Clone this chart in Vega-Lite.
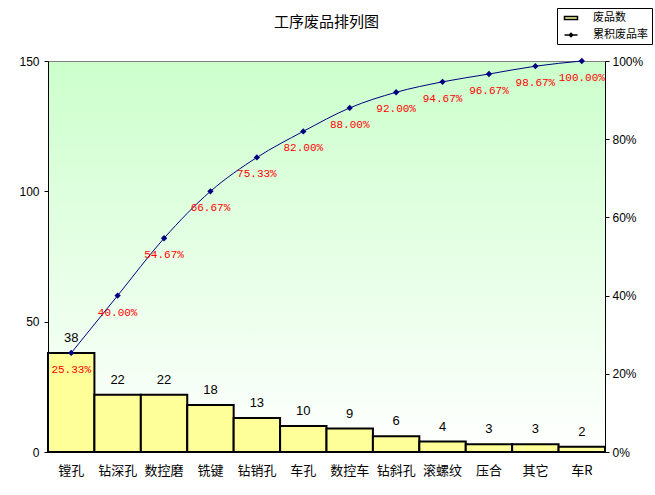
{
  "$schema": "https://vega.github.io/schema/vega-lite/v6.json",
  "width": 557,
  "height": 391,
  "autosize": "none",
  "padding": {"left": 48, "top": 61, "right": 50, "bottom": 43},
  "background": "white",
  "config": {
    "view": {
      "fill": {"gradient": "linear", "x1": 0, "y1": 0, "x2": 0, "y2": 1,
        "stops": [{"offset": 0, "color": "#CCFFCC"}, {"offset": 1, "color": "#FFFFFF"}]},
      "stroke": "#808080",
      "strokeWidth": 1
    },
    "font": "Liberation Sans",
    "axis": {"grid": false, "domainColor": "black", "tickColor": "black", "labelColor": "black", "labelFont": "Liberation Sans", "labelFontSize": 12, "title": null}
  },
  "title": {"text": "工序废品排列图", "font": "Noto Sans CJK SC", "fontSize": 15, "fontWeight": "normal", "color": "black", "anchor": "middle", "offset": 0, "dy": 22},
  "data": {"values": [
    {"process": "镗孔", "count": 38, "cum": 0.2533},
    {"process": "钻深孔", "count": 22, "cum": 0.4000},
    {"process": "数控磨", "count": 22, "cum": 0.5467},
    {"process": "铣键", "count": 18, "cum": 0.6667},
    {"process": "钻销孔", "count": 13, "cum": 0.7533},
    {"process": "车孔", "count": 10, "cum": 0.8200},
    {"process": "数控车", "count": 9, "cum": 0.8800},
    {"process": "钻斜孔", "count": 6, "cum": 0.9200},
    {"process": "滚螺纹", "count": 4, "cum": 0.9467},
    {"process": "压合", "count": 3, "cum": 0.9667},
    {"process": "其它", "count": 3, "cum": 0.9867},
    {"process": "车R", "count": 2, "cum": 1.0000}
  ]},
  "encoding": {
    "x": {"field": "process", "type": "nominal", "sort": null,
      "scale": {"paddingInner": 0, "paddingOuter": 0},
      "axis": {"labelAngle": 0, "ticks": false, "labelFont": "Noto Sans CJK SC", "labelFontSize": 13, "labelPadding": 12}}
  },
  "layer": [
    {
      "encoding": {
        "y": {"field": "count", "type": "quantitative",
          "scale": {"domain": [0, 150], "nice": false},
          "axis": {"values": [0, 50, 100, 150], "tickSize": 4, "labelPadding": 5}}
      },
      "layer": [
        {
          "mark": {"type": "bar", "stroke": "black", "strokeWidth": 2},
          "encoding": {
            "color": {"datum": "废品数", "type": "nominal",
              "scale": {"domain": ["废品数", "累积废品率"], "range": ["#FFFF99", "#000080"]},
              "legend": {
                "title": null, "orient": "none", "legendX": 509, "legendY": -53,
                "direction": "vertical",
                "strokeColor": "black", "fillColor": "white", "padding": 4,
                "labelFont": "Noto Sans CJK SC", "labelFontSize": 11, "labelColor": "black",
                "symbolSize": 100, "rowPadding": 6, "labelOffset": 20,
                "symbolType": {"expr": "datum.value === '废品数' ? 'M-0.5,-0.3H2.1V0.3H-0.5Z' : 'M-0.5,0H2.1M0.8,-0.35L1.15,0L0.8,0.35L0.45,0Z'"},
                "encode": {"symbols": {
                  "fill": {"condition": {"test": "datum.value === '废品数'", "value": "#FFFF99"}, "value": "#000080"},
                  "stroke": {"condition": {"test": "datum.value === '废品数'", "value": "black"}, "value": "#000080"},
                  "strokeWidth": {"value": 1.5},
                  "opacity": {"value": 1},
                  "fillOpacity": {"value": 1}
                }}
              }}
          }
        },
        {
          "mark": {"type": "text", "dy": -15, "fontSize": 13, "color": "black", "font": "Liberation Sans"},
          "encoding": {"text": {"field": "count", "type": "quantitative"}}
        }
      ]
    },
    {
      "encoding": {
        "y": {"field": "cum", "type": "quantitative",
          "scale": {"domain": [0, 1], "nice": false},
          "axis": {"orient": "right", "format": ".0%", "values": [0, 0.2, 0.4, 0.6, 0.8, 1], "tickSize": 4, "labelPadding": 3}}
      },
      "layer": [
        {
          "mark": {"type": "line", "interpolate": "monotone", "strokeWidth": 1, "color": "#000080"},
          "encoding": {}
        },
        {
          "mark": {"type": "point", "shape": "diamond", "filled": true, "size": 40, "color": "#000080", "opacity": 1},
          "encoding": {}
        },
        {
          "mark": {"type": "text", "dy": 17, "fontSize": 11, "color": "#FF0000", "font": "Liberation Mono"},
          "encoding": {"text": {"field": "cum", "type": "quantitative", "format": ".2%"}}
        }
      ]
    }
  ],
  "resolve": {"scale": {"y": "independent"}}
}
